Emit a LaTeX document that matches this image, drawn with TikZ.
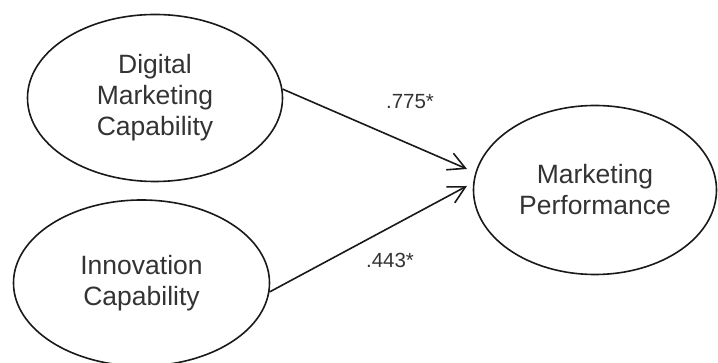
\documentclass[tikz,border=0pt]{standalone}
\usepackage{fontspec}
\setmainfont{Liberation Sans}
\usetikzlibrary{shapes.geometric,arrows.meta}
\begin{document}
\begin{tikzpicture}[x=1pt,y=1pt]
\tikzstyle{construct}=[ellipse,draw=black!90,line width=1.6pt,inner sep=0pt,align=center,text=black!80,font=\fontsize{26.5}{31}\selectfont];
\tikzstyle{path}=[line width=1.6pt,draw=black!90,-{Straight Barb[length=17pt,width=18pt,line width=1.6pt]}];
\tikzstyle{coef}=[text=black!80,font=\fontsize{20.5}{24}\selectfont];

\useasboundingbox (0,0) rectangle (718,363);

% latent constructs
\node[construct,minimum width=255pt,minimum height=167pt] (dmc) at (155,265) {Digital\\Marketing\\Capability};
\node[construct,minimum width=256pt,minimum height=166pt] (ic) at (141.5,80) {Innovation\\Capability};
\node[construct,minimum width=243pt,minimum height=169pt] (mp) at (595,173) {Marketing\\Performance};

% arrow tips stop short of the outcome
\coordinate (tipA) at (467,194);
\coordinate (tipB) at (467,177);

\draw [path] (dmc.4.5) -- (tipA);
\draw [path] (ic.-4.5) -- (tipB);

\node[coef] (bA) at (410,261) {.775*};
\node[coef] (bB) at (390,103) {.443*};

\end{tikzpicture}
\end{document}
